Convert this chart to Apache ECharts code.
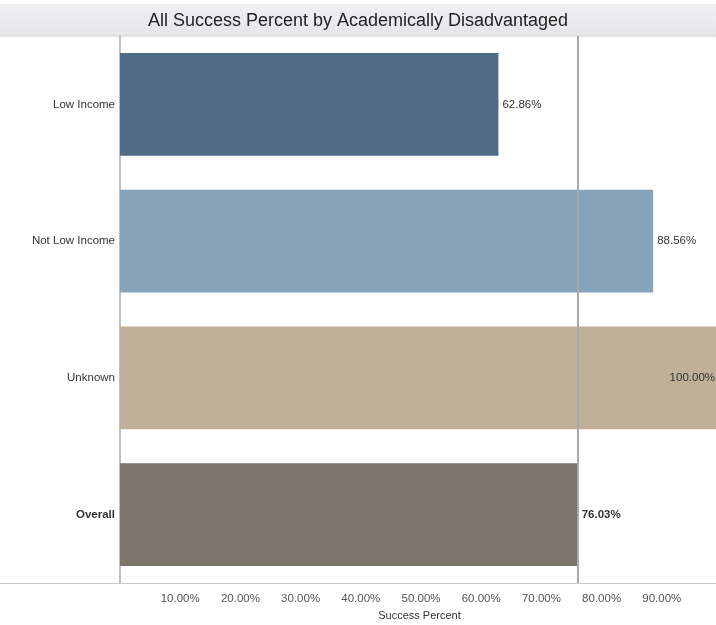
<!DOCTYPE html>
<html>
<head>
<meta charset="utf-8">
<script src="https://cdn.jsdelivr.net/npm/echarts@6/dist/echarts.min.js"></script>
<style>html,body{margin:0;padding:0;background:#fff;overflow:hidden;}#c{width:716px;height:625px;}</style>
</head>
<body>
<div id="c"></div>
<script>
var categories = ["Low Income", "Not Low Income", "Unknown", "Overall"];
var successPercent = [62.86, 88.56, 100.00, 76.03];
var barColors = ["#4f6b86", "#86a3bc", "#bfae98", "#7d7469"];
var tickValues = [10, 20, 30, 40, 50, 60, 70, 80, 90];
var overallValue = successPercent[3];

var chart = echarts.init(document.getElementById('c'), null, {renderer: 'canvas', width: 716, height: 625});
var font = '"Liberation Sans", Arial, sans-serif';

var data = successPercent.map(function (v, i) {
  var bold = categories[i] === 'Overall';
  return {
    value: v,
    itemStyle: {color: barColors[i]},
    label: {
      position: v >= 99 ? 'insideRight' : 'right',
      distance: 4,
      fontWeight: bold ? 'bold' : 'normal'
    }
  };
});

chart.setOption({
  animation: false,
  title: {
    text: 'All Success Percent by Academically Disadvantaged',
    left: 'center', top: 7,
    textStyle: {fontFamily: font, fontSize: 18, fontWeight: 'normal', color: '#222'}
  },
  graphic: [
    {type: 'rect', z: -1, shape: {x: 0, y: 4, width: 716, height: 31},
     style: {fill: new echarts.graphic.LinearGradient(0, 0, 0, 1, [{offset: 0, color: '#f1f1f4'}, {offset: 1, color: '#e6e6ea'}])}},
    {type: 'line', shape: {x1: 0, y1: 36, x2: 716, y2: 36}, style: {stroke: '#c8c8c8', lineWidth: 1}},
    {type: 'line', shape: {x1: 0, y1: 583.5, x2: 716, y2: 583.5}, style: {stroke: '#c8c8c8', lineWidth: 1}}
  ],
  grid: {left: 120, right: -3, top: 36, bottom: 42, containLabel: false, outerBoundsMode: 'none'},
  xAxis: {
    type: 'value', min: 0, max: 99.5, interval: 10,
    name: 'Success Percent', nameLocation: 'middle', nameGap: 27,
    nameTextStyle: {fontFamily: font, fontSize: 11, color: '#333'},
    axisLine: {show: true, lineStyle: {color: '#c8c8c8'}},
    axisTick: {show: false},
    splitLine: {show: false},
    axisLabel: {
      fontFamily: font, fontSize: 11.5, color: '#555', margin: 10,
      formatter: function (v) { return tickValues.indexOf(v) >= 0 ? v.toFixed(2) + '%' : ''; }
    }
  },
  yAxis: {
    type: 'category', data: categories, inverse: true,
    axisLine: {show: true, lineStyle: {color: '#aaa', width: 1.5}},
    axisTick: {show: false},
    axisLabel: {
      fontFamily: font, fontSize: 11.5, color: '#333', margin: 5,
      formatter: function (v) { return v === 'Overall' ? '{b|' + v + '}' : v; },
      rich: {b: {fontFamily: font, fontSize: 11.5, fontWeight: 'bold', color: '#333'}}
    }
  },
  series: [{
    type: 'bar',
    data: data,
    barCategoryGap: '25%',
    label: {show: true, fontFamily: font, fontSize: 11.5, color: '#333',
      formatter: function (p) { return p.value.toFixed(2) + '%'; }},
    markLine: {
      silent: true, symbol: 'none', label: {show: false},
      lineStyle: {color: '#aaa', width: 2, type: 'solid'},
      data: [{xAxis: overallValue}]
    }
  }]
});
</script>
</body>
</html>
